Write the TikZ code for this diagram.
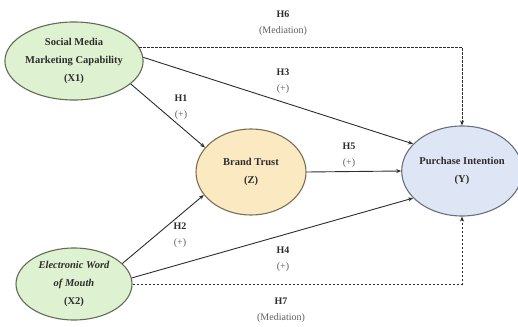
\documentclass[tikz,border=0pt]{standalone}
\usepackage{fontspec}
\setmainfont{Liberation Serif}
\usetikzlibrary{shapes.geometric,arrows.meta}
\definecolor{gfill}{RGB}{222,241,208}
\definecolor{gdraw}{RGB}{95,110,85}
\definecolor{yfill}{RGB}{251,233,194}
\definecolor{ydraw}{RGB}{125,110,85}
\definecolor{bfill}{RGB}{222,230,245}
\definecolor{bdraw}{RGB}{105,112,125}
\definecolor{ink}{RGB}{45,45,45}
\definecolor{soft}{RGB}{95,95,95}
\begin{document}
\begin{tikzpicture}[x=1pt,y=-1pt,
  var/.style={ellipse, line width=1.1pt, inner sep=0pt, align=center,
    font=\fontsize{10.5}{18}\selectfont\bfseries, text=ink},
  hyp/.style={align=center, text=ink, font=\fontsize{10}{16}\selectfont},
  link/.style={draw=ink, line width=0.9pt, -{Stealth[length=5pt,width=4pt]}},
  medlink/.style={draw=ink, line width=0.9pt, dash pattern=on 2.4pt off 1.6pt, -{Stealth[length=5pt,width=4pt]}}
]
\useasboundingbox (0,0) rectangle (518,326);
\fill[white] (0,0) rectangle (518,326);

\node[var, fill=gfill, draw=gdraw, minimum width=118pt, minimum height=78pt] (X1) at (74,61)
  {Social Media\\Marketing Capability\\(X1)};
\node[var, fill=gfill, draw=gdraw, minimum width=116pt, minimum height=72pt] (X2) at (74,284)
  {\itshape Electronic Word\\\itshape of Mouth\\(X2)};
\node[var, fill=yfill, draw=ydraw, minimum width=110pt, minimum height=86pt] (Z) at (251,172)
  {Brand Trust\\(Z)};
\node[var, fill=bfill, draw=bdraw, minimum width=110pt, minimum height=90pt] (Y) at (462,171)
  {Purchase Intention\\(Y)};

\draw[link] (X1.-22) -- (Z.152);
\draw[link] (X1.3) -- (Y.151);
\draw[link] (X2.23) -- (Z.-154);
\draw[link] (X2.6) -- (Y.-151);
\draw[link] (Z.east) -- (Y.west);
\draw[medlink] (X1.12) -- (X1.12 -| Y.north) -- (Y.north);
\draw[medlink] (X2.east) -- (X2.east -| Y.south) -- (Y.south);

\node[hyp] (h6) at (283,23.5) {\textbf{H6}\\\textcolor{soft}{(Mediation)}};
\node[hyp] (h3) at (283,81.5) {\textbf{H3}\\\textcolor{soft}{(+)}};
\node[hyp] (h1) at (181,107.5) {\textbf{H1}\\\textcolor{soft}{(+)}};
\node[hyp] (h5) at (349,155.5) {\textbf{H5}\\\textcolor{soft}{(+)}};
\node[hyp] (h2) at (180,235.5) {\textbf{H2}\\\textcolor{soft}{(+)}};
\node[hyp] (h4) at (283,259.5) {\textbf{H4}\\\textcolor{soft}{(+)}};
\node[hyp] (h7) at (281,310.5) {\textbf{H7}\\\textcolor{soft}{(Mediation)}};
\end{tikzpicture}
\end{document}
